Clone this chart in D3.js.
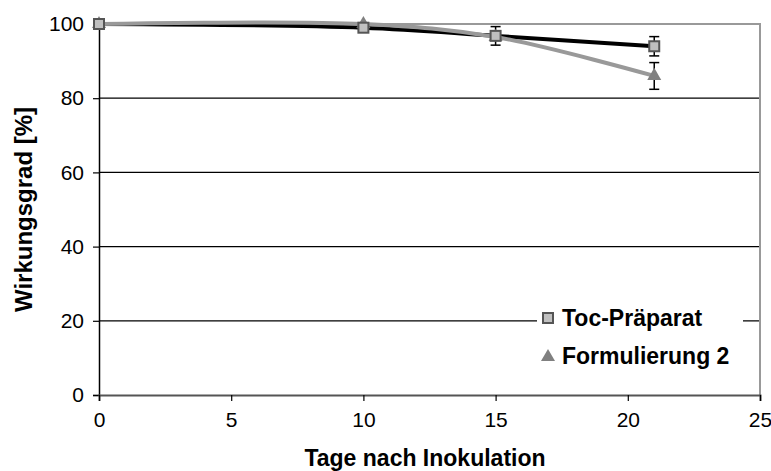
<!DOCTYPE html>
<html><head><meta charset="utf-8">
<script src="https://cdn.jsdelivr.net/npm/d3@7"></script>
<style>body{margin:0;background:#fff}svg{display:block;font-family:"Liberation Sans",Arial,sans-serif}</style>
</head><body><svg id="c" width="771" height="471"></svg>
<script>
const days = [0, 10, 15, 21];
const tocValues = [100, 99, 96.8, 94];
const tocErr = [0, 0, 2.5, 2.6];
const formValues = [100, 100, 96.5, 86];
const formErr = [0, 0, 0, 3.6];
const seriesNames = ["Toc-Präparat", "Formulierung 2"];
const xTicks = [0, 5, 10, 15, 20, 25];
const yTicks = [0, 20, 40, 60, 80, 100];

const svg = d3.select("#c");
const x = d3.scaleLinear().domain([0, 25]).range([99, 760]);
const y = d3.scaleLinear().domain([0, 100]).range([395, 24]);

// gridlines
svg.append("g").selectAll("line").data(yTicks.filter(d => d > 0 && d < 100)).join("line")
  .attr("x1", x(0)).attr("x2", x(25)).attr("y1", d => y(d)).attr("y2", d => y(d))
  .attr("stroke", "#000").attr("stroke-width", 1.2);
// top & right border
svg.append("path").attr("d", `M${x(0)},${y(100)}H${x(25)}V${y(0)}`)
  .attr("fill", "none").attr("stroke", "#999").attr("stroke-width", 2);

// legend background (hides gridline)
svg.append("rect").attr("x", 537).attr("y", 298).attr("width", 206).attr("height", 78).attr("fill", "#fff");

// axes
const yAxis = d3.axisLeft(y).tickValues(yTicks).tickSize(6).tickPadding(9);
const gy = svg.append("g").attr("transform", `translate(${x(0)},0)`).call(yAxis);
const xAxis = d3.axisBottom(x).tickValues(xTicks).tickSize(6).tickPadding(11);
const gx = svg.append("g").attr("transform", `translate(0,${y(0)})`).call(xAxis);
[gy, gx].forEach(g => {
  g.select(".domain").attr("stroke", "#000").attr("stroke-width", 1.5);
  g.selectAll(".tick line").attr("stroke", "#000").attr("stroke-width", 1.2);
  g.selectAll("text").attr("font-size", 21).attr("fill", "#000").attr("font-family", '"Liberation Sans",Arial,sans-serif');
});
gx.select(".domain").attr("stroke", "#555").attr("stroke-width", 2);

// titles
svg.append("text").attr("x", 425).attr("y", 466).attr("text-anchor", "middle")
  .attr("font-size", 23).attr("font-weight", "bold").text("Tage nach Inokulation");
svg.append("text").attr("transform", `translate(32,${(y(0)+y(100))/2}) rotate(-90)`)
  .attr("text-anchor", "middle").attr("font-size", 24).attr("font-weight", "bold").text("Wirkungsgrad [%]");

const line = d3.line().x(d => x(d[0])).y(d => y(d[1])).curve(d3.curveCatmullRom.alpha(0.5));
const tocData = days.map((d, i) => [d, tocValues[i], tocErr[i]]);
const formData = days.map((d, i) => [d, formValues[i], formErr[i]]);

svg.append("path").datum(tocData).attr("d", line).attr("fill", "none").attr("stroke", "#000").attr("stroke-width", 4);
svg.append("path").datum(formData).attr("d", line).attr("fill", "none").attr("stroke", "#999").attr("stroke-width", 4);

function errBars(data) {
  const g = svg.append("g").attr("stroke", "#000").attr("stroke-width", 1.5);
  data.filter(d => d[2] > 0).forEach(d => {
    const cx = x(d[0]), t = y(d[1] + d[2]), b = y(d[1] - d[2]);
    g.append("line").attr("x1", cx).attr("x2", cx).attr("y1", t).attr("y2", b);
    g.append("line").attr("x1", cx - 5).attr("x2", cx + 5).attr("y1", t).attr("y2", t);
    g.append("line").attr("x1", cx - 5).attr("x2", cx + 5).attr("y1", b).attr("y2", b);
  });
}
errBars(formData);
errBars(tocData);

const tri = d3.symbol().type(d3.symbolTriangle).size(85);
svg.append("g").selectAll("path").data(formData).join("path")
  .attr("transform", d => `translate(${x(d[0])},${y(d[1])})`).attr("d", tri).attr("fill", "#808080");
svg.append("g").selectAll("rect").data(tocData).join("rect")
  .attr("x", d => x(d[0]) - 5).attr("y", d => y(d[1]) - 5).attr("width", 10).attr("height", 10)
  .attr("fill", "#c0c0c0").attr("stroke", "#555").attr("stroke-width", 2);

// legend
const lg = svg.append("g");
lg.append("rect").attr("x", 543).attr("y", 313).attr("width", 10).attr("height", 10)
  .attr("fill", "#c0c0c0").attr("stroke", "#555").attr("stroke-width", 2);
lg.append("path").attr("transform", "translate(548,357)").attr("d", tri).attr("fill", "#808080");
lg.selectAll("text").data(seriesNames).join("text")
  .attr("x", 562).attr("y", (d, i) => 326 + i * 38)
  .attr("font-size", 23).attr("font-weight", "bold").text(d => d);
</script></body></html>
